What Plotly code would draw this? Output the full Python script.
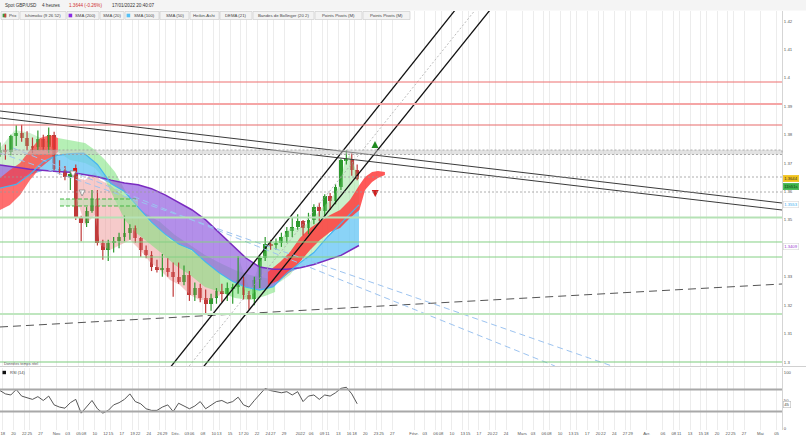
import plotly.graph_objects as go
import numpy as np

# ---------------- geometry of the page ----------------
W, H = 806, 442
ML, MR, MT, MB = 0, 24, 11, 12
PW = W - ML - MR
PH = H - MT - MB


def pxx(x):
    return x / PW


def pyy(y):
    return (H - MB - y) / PH

# ---------------- data ----------------
candle_dates = ["2021-10-15", "2021-10-18", "2021-10-19", "2021-10-20", "2021-10-21", "2021-10-22",
                "2021-10-25", "2021-10-26", "2021-10-27", "2021-10-28", "2021-10-29",
                "2021-11-01", "2021-11-02", "2021-11-03", "2021-11-04", "2021-11-05",
                "2021-11-08", "2021-11-09", "2021-11-10", "2021-11-11", "2021-11-12",
                "2021-11-15", "2021-11-16", "2021-11-17", "2021-11-18", "2021-11-19",
                "2021-11-22", "2021-11-23", "2021-11-24", "2021-11-25", "2021-11-26",
                "2021-11-29", "2021-11-30", "2021-12-01", "2021-12-02", "2021-12-03",
                "2021-12-06", "2021-12-07", "2021-12-08", "2021-12-09", "2021-12-10",
                "2021-12-13", "2021-12-14", "2021-12-15", "2021-12-16", "2021-12-17",
                "2021-12-20", "2021-12-21", "2021-12-22", "2021-12-23", "2021-12-24",
                "2021-12-27", "2021-12-28", "2021-12-29", "2021-12-30", "2021-12-31",
                "2022-01-03", "2022-01-04", "2022-01-05", "2022-01-06", "2022-01-07",
                "2022-01-10", "2022-01-11", "2022-01-12", "2022-01-13", "2022-01-14",
                "2022-01-17"]
price_open = [1.3735, 1.3745, 1.3740, 1.3795, 1.3805, 1.3790,
              1.3760, 1.3755, 1.3785, 1.3755, 1.3800,
              1.3680, 1.3675, 1.3650, 1.3660, 1.3505,
              1.3490, 1.3530, 1.3575, 1.3420, 1.3395,
              1.3420, 1.3425, 1.3440, 1.3455, 1.3470,
              1.3435, 1.3395, 1.3375, 1.3335, 1.3325,
              1.3330, 1.3315, 1.3300, 1.3280, 1.3305,
              1.3235, 1.3260, 1.3225, 1.3205, 1.3225,
              1.3250, 1.3240, 1.3260, 1.3265, 1.3290,
              1.3235, 1.3220, 1.3290, 1.3365, 1.3415,
              1.3410, 1.3420, 1.3440, 1.3460, 1.3475,
              1.3495, 1.3470, 1.3500, 1.3545, 1.3530,
              1.3585, 1.3565, 1.3615, 1.3710, 1.3715,
              1.3675]
price_high = [1.3772, 1.3765, 1.3800, 1.3833, 1.3835, 1.3812,
              1.3790, 1.3815, 1.3800, 1.3825, 1.3810,
              1.3710, 1.3690, 1.3670, 1.3695, 1.3515,
              1.3545, 1.3605, 1.3605, 1.3430, 1.3430,
              1.3440, 1.3455, 1.3515, 1.3485, 1.3480,
              1.3440, 1.3410, 1.3390, 1.3360, 1.3380,
              1.3365, 1.3350, 1.3350, 1.3340, 1.3320,
              1.3280, 1.3275, 1.3255, 1.3240, 1.3260,
              1.3275, 1.3280, 1.3275, 1.3372, 1.3300,
              1.3250, 1.3300, 1.3375, 1.3440, 1.3430,
              1.3435, 1.3455, 1.3475, 1.3510, 1.3520,
              1.3500, 1.3525, 1.3555, 1.3560, 1.3590,
              1.3595, 1.3625, 1.3715, 1.3745, 1.3735,
              1.3695]
price_low = [1.3722, 1.3712, 1.3728, 1.3760, 1.3775, 1.3745,
             1.3735, 1.3745, 1.3745, 1.3735, 1.3675,
             1.3660, 1.3640, 1.3605, 1.3500, 1.3425,
             1.3475, 1.3525, 1.3410, 1.3360, 1.3355,
             1.3385, 1.3400, 1.3425, 1.3430, 1.3420,
             1.3370, 1.3365, 1.3320, 1.3315, 1.3300,
             1.3300, 1.3230, 1.3275, 1.3270, 1.3215,
             1.3215, 1.3210, 1.3165, 1.3180, 1.3205,
             1.3210, 1.3215, 1.3205, 1.3240, 1.3220,
             1.3185, 1.3200, 1.3260, 1.3355, 1.3395,
             1.3395, 1.3405, 1.3420, 1.3440, 1.3465,
             1.3445, 1.3450, 1.3485, 1.3495, 1.3515,
             1.3535, 1.3555, 1.3605, 1.3695, 1.3655,
             1.3640]
price_close = [1.3745, 1.3740, 1.3795, 1.3805, 1.3790, 1.3760,
               1.3755, 1.3785, 1.3755, 1.3800, 1.3680,
               1.3675, 1.3650, 1.3660, 1.3505, 1.3490,
               1.3530, 1.3575, 1.3420, 1.3395, 1.3420,
               1.3425, 1.3440, 1.3455, 1.3470, 1.3435,
               1.3395, 1.3375, 1.3335, 1.3325, 1.3330,
               1.3315, 1.3300, 1.3280, 1.3305, 1.3235,
               1.3260, 1.3225, 1.3205, 1.3225, 1.3250,
               1.3240, 1.3260, 1.3265, 1.3290, 1.3235,
               1.3220, 1.3290, 1.3365, 1.3415, 1.3410,
               1.3420, 1.3440, 1.3460, 1.3475, 1.3495,
               1.3470, 1.3500, 1.3545, 1.3530, 1.3585,
               1.3565, 1.3615, 1.3710, 1.3715, 1.3675,
               1.3644]

rsi_values = [68, 62, 60, 70, 58, 55,
              52, 57, 50, 58, 42,
              38, 36, 46, 52, 27,
              38, 50, 35, 27, 32,
              42, 46, 52, 62, 48,
              44, 35, 32, 32, 38,
              42, 30, 45, 40, 35,
              40, 48, 35, 42, 48,
              50, 45, 48, 56, 42,
              38, 50, 62, 72, 68,
              66, 64, 66, 60, 66,
              48, 58, 60, 52, 60,
              58, 64, 72, 74, 62,
              44]

sma_dates = ["2021-10-15 12:00", "2021-10-18", "2021-10-20 12:00", "2021-10-25", "2021-10-27 12:00",
             "2021-11-01", "2021-11-03 12:00", "2021-11-08", "2021-11-10 12:00", "2021-11-15",
             "2021-11-17 12:00", "2021-11-22", "2021-11-24 12:00", "2021-11-29", "2021-12-01 12:00",
             "2021-12-06", "2021-12-08 12:00", "2021-12-13", "2021-12-15 12:00", "2021-12-20",
             "2021-12-22 12:00", "2021-12-27", "2021-12-29 12:00", "2022-01-03", "2022-01-05 12:00",
             "2022-01-10", "2022-01-12 12:00", "2022-01-17 20:00"]
sma200 = [1.3693, 1.3692, 1.3685, 1.3678, 1.3673,
          1.3670, 1.3668, 1.3660, 1.3652, 1.3640,
          1.3630, 1.3624, 1.3610, 1.3588, 1.3562,
          1.3535, 1.3500, 1.3455, 1.3408, 1.3365,
          1.3334, 1.3326, 1.3326, 1.3332, 1.3343,
          1.3360, 1.3375, 1.3410]
sma100 = [1.3612, 1.3614, 1.3625, 1.3660, 1.3705,
          1.3727, 1.3733, 1.3735, 1.3695, 1.3628,
          1.3600, 1.3545, 1.3492, 1.3450, 1.3415,
          1.3395, 1.3352, 1.3314, 1.3283, 1.3263,
          1.3253, 1.3265, 1.3312, 1.3350, 1.3385,
          1.3440, 1.3490, 1.3553]

# Ichimoku cloud pieces (upper / lower edge)
cloud_red1_dates = ["2021-10-15 12:00", "2021-10-19 08:00", "2021-10-21 05:00", "2021-10-25 01:00",
                    "2021-10-26 22:00", "2021-10-28 18:00", "2021-11-01 05:00"]
cloud_red1_top = [1.36475, 1.36757, 1.37003, 1.37460, 1.37883, 1.37988, 1.37883]
cloud_red1_bot = [1.35349, 1.35525, 1.35877, 1.36405, 1.36827, 1.37109, 1.37390]

cloud_green1_dates = ["2021-11-01 05:00", "2021-11-03 11:00", "2021-11-08 05:00", "2021-11-10 01:00",
                      "2021-11-11 22:00", "2021-11-15 18:00", "2021-11-17 14:00", "2021-11-19 11:00",
                      "2021-11-23 07:00", "2021-11-26 02:00", "2021-11-30 20:00", "2021-12-03 15:00",
                      "2021-12-08 09:00", "2021-12-13 04:00", "2021-12-15 22:00", "2021-12-20 17:00",
                      "2021-12-23 11:00", "2021-12-27 08:00"]
cloud_green1_top = [1.37883, 1.37812, 1.37707, 1.37460, 1.37109, 1.36686, 1.36053, 1.35525,
                    1.35244, 1.34927, 1.34469, 1.34117, 1.33765, 1.33484, 1.33238, 1.33062,
                    1.32956, 1.32886]
cloud_green1_bot = [1.37390, 1.37109, 1.37003, 1.36827, 1.36405, 1.35701, 1.34997, 1.34575,
                    1.34293, 1.33871, 1.33414, 1.33062, 1.32639, 1.32464, 1.32253, 1.32182,
                    1.32323, 1.32464]

cloud_red2_dates = ["2021-12-24 00:00", "2021-12-28 06:00", "2021-12-30 02:00", "2021-12-31 22:00",
                    "2022-01-04 19:00", "2022-01-06 15:00", "2022-01-10 12:00", "2022-01-12 08:00",
                    "2022-01-14 04:00", "2022-01-17 22:00", "2022-01-18 23:00", "2022-01-20 06:00",
                    "2022-01-21 08:00", "2022-01-24 15:00"]
cloud_red2_top = [1.33167, 1.33519, 1.33871, 1.34364, 1.34716, 1.34927, 1.35173, 1.35349,
                  1.35701, 1.36229, 1.36510, 1.36686, 1.36721, 1.36686]
cloud_red2_bot = [1.32710, 1.32886, 1.33167, 1.33519, 1.33941, 1.34293, 1.34575, 1.34716,
                  1.35068, 1.35349, 1.36053, 1.36334, 1.36475, 1.36581]

# light trend fills around price
pink_dates = ["2021-11-04 18:00", "2021-11-08 05:00", "2021-11-10 01:00", "2021-11-10 23:00",
              "2021-11-12 20:00", "2021-11-16 16:00", "2021-11-18 13:00", "2021-11-22 09:00",
              "2021-11-24 05:00", "2021-11-26 02:00", "2021-11-29 22:00", "2021-12-01 18:00",
              "2021-12-03 15:00", "2021-12-07 11:00", "2021-12-09 07:00", "2021-12-13 04:00"]
pink_top = [1.36475, 1.36405, 1.36686, 1.36405, 1.36229, 1.35947, 1.35701, 1.35349,
            1.34927, 1.34645, 1.34293, 1.34117, 1.33941, 1.33695, 1.33414, 1.33132]
pink_bot = [1.35701, 1.34821, 1.35173, 1.34117, 1.33941, 1.34117, 1.34293, 1.33941,
            1.33519, 1.33238, 1.32886, 1.32710, 1.32358, 1.32182, 1.32182, 1.32358]

lgreen_l_dates = ["2021-10-15 12:00", "2021-10-20 07:00", "2021-10-25 01:00", "2021-10-27 20:00",
                  "2021-10-29 16:00", "2021-11-01 14:00"]
lgreen_l_top = [1.37531, 1.38164, 1.38058, 1.37812, 1.37460, 1.36933]
lgreen_l_bot = [1.36123, 1.36299, 1.36686, 1.37144, 1.37214, 1.36897]

lgreen_r_dates = ["2021-12-15 22:00", "2021-12-16 20:00", "2021-12-20 17:00", "2021-12-22 13:00",
                  "2021-12-24 09:00", "2021-12-28 06:00", "2021-12-30 02:00", "2021-12-31 22:00",
                  "2022-01-04 19:00", "2022-01-06 15:00", "2022-01-10 12:00", "2022-01-12 08:00",
                  "2022-01-13 06:00", "2022-01-14 04:00", "2022-01-17 20:00"]
lgreen_r_top = [1.32710, 1.33519, 1.32534, 1.33519, 1.34188, 1.34293, 1.34716, 1.34716,
                1.34927, 1.35349, 1.35701, 1.36229, 1.37109, 1.37285, 1.36475]
lgreen_r_bot = [1.32534, 1.32710, 1.32358, 1.32534, 1.32710, 1.32815, 1.33062, 1.33519,
                1.33695, 1.34117, 1.34575, 1.34821, 1.35033, 1.35173, 1.35525]

# horizontal support / resistance levels
res_levels = [1.39853, 1.39079, 1.38340]
res_widths = [1.2, 2.0, 1.2]
res_colors = ["#ee7070", "#f5a5a5", "#e86a6a"]
sup_levels = [1.35085, 1.34223, 1.33695, 1.31689, 1.30000]
sup_widths = [2.0, 1.0, 1.0, 2.0, 1.2]
sup_colors = ["#b5e2b5", "#84d084", "#84d084", "#bfe6bf", "#7ccc7c"]
dotted_levels = [1.36510, 1.35982]
grey_band = [1.37302, 1.37460]
green_band = [1.35490, 1.35736]
green_band_dates = ["2021-11-01 14:00", "2021-11-22 00:00"]

# drawn trend lines (two anchor points each)
desc_line1 = (["2021-10-15 12:00", "2022-05-06 00:00"], [1.38833, 1.35595])
desc_line2 = (["2021-10-15 12:00", "2022-05-06 00:00"], [1.38587, 1.35349])
rise_dashed = (["2021-10-15 12:00", "2022-05-06 00:00"], [1.31232, 1.32745])
chan_upper = (["2021-11-29", "2022-02-14"], [1.2958, 1.4272])
chan_lower = (["2021-12-07", "2022-02-23"], [1.2957, 1.4285])
chan_mid = (["2021-12-03", "2022-02-17"], [1.2975, 1.4255])
blue_dash1 = (["2021-10-19 22:00", "2022-03-09 01:00"], [1.37531, 1.29859])
blue_dash2 = (["2021-10-15 12:00", "2022-03-23 14:00"], [1.37355, 1.29859])

# signal markers
buy_sig = ("2022-01-20 19:00", 1.37778)
sell_sig = ("2022-01-20 20:00", 1.35807)
red_mark = ("2021-11-04 09:00", 1.36757)
white_marks = (["2021-11-04 00:00", "2021-11-05 16:00"], [1.36510, 1.35842])

# axis ticks (date, label)
tick_dates = ["2021-10-15", "2021-10-18", "2021-10-20", "2021-10-22", "2021-10-25", "2021-10-27",
              "2021-11-01", "2021-11-03", "2021-11-05", "2021-11-08", "2021-11-10", "2021-11-12",
              "2021-11-15", "2021-11-17", "2021-11-19", "2021-11-22", "2021-11-24", "2021-11-26",
              "2021-11-29", "2021-12-01", "2021-12-03", "2021-12-06", "2021-12-08", "2021-12-10",
              "2021-12-13", "2021-12-15", "2021-12-17", "2021-12-20", "2021-12-22", "2021-12-24",
              "2021-12-27", "2021-12-29", "2022-01-03", "2022-01-05", "2022-01-07", "2022-01-10",
              "2022-01-12", "2022-01-14", "2022-01-17", "2022-01-19", "2022-01-21", "2022-01-24",
              "2022-01-26", "2022-02-01", "2022-02-03", "2022-02-07", "2022-02-08", "2022-02-10",
              "2022-02-14", "2022-02-15", "2022-02-17", "2022-02-21", "2022-02-22", "2022-02-24",
              "2022-03-01", "2022-03-03", "2022-03-07", "2022-03-08", "2022-03-10", "2022-03-14",
              "2022-03-15", "2022-03-17", "2022-03-21", "2022-03-22", "2022-03-24", "2022-03-28",
              "2022-03-29", "2022-04-01", "2022-04-06", "2022-04-08", "2022-04-11", "2022-04-13",
              "2022-04-15", "2022-04-18", "2022-04-20", "2022-04-22", "2022-04-25", "2022-04-27",
              "2022-05-02", "2022-05-05"]
tick_labels = ["15", "18", "20", "22", "25", "27",
               "Nov.", "03", "05", "08", "10", "12",
               "15", "17", "19", "22", "24", "26",
               "29", "Déc.", "03", "06", "08", "10",
               "13", "15", "17", "20", "22", "24",
               "27", "29", "2022", "06", "09", "11",
               "13", "16", "18", "20", "23", "25",
               "27", "Févr.", "03", "06", "08", "10",
               "13", "15", "17", "20", "22", "24",
               "Mars", "03", "06", "08", "10", "13",
               "15", "17", "20", "22", "24", "27",
               "29", "Avr.", "06", "08", "11", "13",
               "15", "18", "20", "22", "25", "27",
               "Mai", "05"]

price_ticks = [1.30, 1.31, 1.32, 1.33, 1.34, 1.35, 1.36, 1.37, 1.38, 1.39, 1.40, 1.41, 1.42]
price_tick_text = ["1.3", "1.31", "1.32", "1.33", "", "1.35", "1.36", "1.37", "1.38", "1.39", "1.4", "1.41", "1.42"]

X_RANGE = ["2021-10-15 12:00", "2022-05-06 00:00"]
Y_RANGE = [1.29859, 1.42352]
RSI_RANGE = [-3.6, 109]

FONT = "Liberation Sans"
GREEN = "#2e9a2e"
RED = "#c03a3a"

fig = go.Figure()


def band(dates, top, bot, color, yaxis="y"):
    fig.add_trace(go.Scatter(x=dates, y=top, mode="lines", line=dict(width=0), hoverinfo="skip",
                             showlegend=False, yaxis=yaxis))
    fig.add_trace(go.Scatter(x=dates, y=bot, mode="lines", line=dict(width=0), fill="tonexty",
                             fillcolor=color, hoverinfo="skip", showlegend=False, yaxis=yaxis))


# light trend fills
band(lgreen_l_dates, lgreen_l_top, lgreen_l_bot, "rgba(150,225,150,0.45)")
band(lgreen_r_dates, lgreen_r_top, lgreen_r_bot, "rgba(150,225,150,0.5)")
band(pink_dates, pink_top, pink_bot, "rgba(238,150,150,0.5)")

# green ichimoku cloud
band(cloud_green1_dates, cloud_green1_top, cloud_green1_bot, "rgba(120,225,120,0.55)")

# SMA 100 / 200 fills
s100 = np.array(sma100)
s200 = np.array(sma200)
lower = np.minimum(s100, s200)
band(sma_dates, s200, lower, "rgba(150,100,225,0.72)")
band(sma_dates, s100, lower, "rgba(105,198,245,0.78)")

# red ichimoku clouds
band(cloud_red1_dates, cloud_red1_top, cloud_red1_bot, "rgba(255,55,55,0.72)")
band(cloud_red2_dates, cloud_red2_top, cloud_red2_bot, "rgba(255,60,60,0.85)")

# SMA lines
fig.add_trace(go.Scatter(x=sma_dates, y=sma200, mode="lines", line=dict(color="#7a2cc0", width=1.5),
                         showlegend=False, hoverinfo="skip"))
fig.add_trace(go.Scatter(x=sma_dates, y=sma100, mode="lines", line=dict(color="#45b5f0", width=1.2),
                         showlegend=False, hoverinfo="skip"))

# green dashed pivot band
fig.add_trace(go.Scatter(x=green_band_dates, y=[green_band[1]] * 2, mode="lines",
                         line=dict(color="#46b846", width=1, dash="4px,2px"), showlegend=False, hoverinfo="skip"))
fig.add_trace(go.Scatter(x=green_band_dates, y=[green_band[0]] * 2, mode="lines", fill="tonexty",
                         fillcolor="rgba(170,230,170,0.45)",
                         line=dict(color="#46b846", width=1, dash="4px,2px"), showlegend=False, hoverinfo="skip"))

# candles: wicks then bodies
for up in (True, False):
    wx, wy, bx, bb, bh = [], [], [], [], []
    for d, o, h, l, c in zip(candle_dates, price_open, price_high, price_low, price_close):
        if (c >= o) != up:
            continue
        dn = d + " 12:00"
        wx += [dn, dn, None]
        wy += [l, h, None]
        bx.append(dn)
        bb.append(min(o, c))
        bh.append(max(abs(c - o), 0.00015))
    col = GREEN if up else RED
    fig.add_trace(go.Scatter(x=wx, y=wy, mode="lines", line=dict(color=col, width=1.2),
                             showlegend=False, hoverinfo="skip"))
    fig.add_trace(go.Bar(x=bx, y=bh, base=bb, width=0.72 * 86400000, marker=dict(color=col, line=dict(width=0)),
                         showlegend=False, hoverinfo="skip"))

# trend lines
for (xs, ys), col, wd, dash in [(desc_line1, "#3a3a3a", 1, "solid"), (desc_line2, "#3a3a3a", 1, "solid"),
                                (rise_dashed, "#555555", 1, "8px,5px"),
                                (chan_upper, "#111111", 1.3, "solid"), (chan_lower, "#111111", 1.3, "solid"),
                                (chan_mid, "#aaaaaa", 0.8, "2px,2px"),
                                (blue_dash1, "#9cc3f0", 1, "6px,4px"), (blue_dash2, "#9cc3f0", 1, "6px,4px")]:
    fig.add_trace(go.Scatter(x=xs, y=ys, mode="lines", line=dict(color=col, width=wd, dash=dash),
                             showlegend=False, hoverinfo="skip"))

# markers
fig.add_trace(go.Scatter(x=[buy_sig[0]], y=[buy_sig[1]], mode="markers",
                         marker=dict(symbol="arrow-up", size=7, color="#1f8a1f"), showlegend=False, hoverinfo="skip"))
fig.add_trace(go.Scatter(x=[sell_sig[0]], y=[sell_sig[1]], mode="markers",
                         marker=dict(symbol="arrow-down", size=7, color="#d02020"), showlegend=False, hoverinfo="skip"))
fig.add_trace(go.Scatter(x=[red_mark[0]], y=[red_mark[1]], mode="markers",
                         marker=dict(symbol="square", size=4, color="#e01010"), showlegend=False, hoverinfo="skip"))
fig.add_trace(go.Scatter(x=white_marks[0], y=white_marks[1], mode="markers",
                         marker=dict(symbol="arrow-down", size=6, color="white", line=dict(color="#888", width=0.8)),
                         showlegend=False, hoverinfo="skip"))

# RSI
rsi_x = [d + " 12:00" for d in candle_dates]
fig.add_trace(go.Scatter(x=rsi_x, y=rsi_values, mode="lines", line=dict(color="#444444", width=0.9),
                         yaxis="y2", showlegend=False, hoverinfo="skip"))

shapes = []
# header background
shapes.append(dict(type="rect", xref="paper", yref="paper", x0=0, x1=W / PW, y0=pyy(10.5), y1=pyy(0),
                   fillcolor="#f4f4f4", line=dict(width=0), layer="below"))
# horizontal levels
for lv, wd, col in zip(res_levels + sup_levels, res_widths + sup_widths, res_colors + sup_colors):
    shapes.append(dict(type="line", xref="paper", yref="y", x0=0, x1=1, y0=lv, y1=lv,
                       line=dict(color=col, width=wd), layer="above"))
for lv in dotted_levels:
    shapes.append(dict(type="line", xref="paper", yref="y", x0=0, x1=1, y0=lv, y1=lv,
                       line=dict(color="#999999", width=0.8, dash="2px,2px"), layer="above"))
shapes.append(dict(type="rect", xref="paper", yref="y", x0=0, x1=1, y0=grey_band[0], y1=grey_band[1],
                   fillcolor="rgba(200,200,200,0.5)", line=dict(color="#999999", width=0.8, dash="2px,2px"),
                   layer="above"))
# RSI levels
for lv in (70, 30):
    shapes.append(dict(type="line", xref="paper", yref="y2", x0=0, x1=1, y0=lv, y1=lv,
                       line=dict(color="#a8a8a8", width=2)))
# panel separator
shapes.append(dict(type="line", xref="paper", yref="paper", x0=0, x1=W / PW, y0=pyy(366.5), y1=pyy(366.5),
                   line=dict(color="#d0d0d0", width=1)))

# legend strip
legend_items = [("Prix", 1, 19), ("Ichimoku (9 26 52)", 20, 66), ("SMA (200)", 67, 99), ("SMA (20)", 100, 124),
                ("SMA (100)", 125, 159), ("SMA (50)", 160, 189), ("Heikin-Ashi", 190, 219), ("DEMA (21)", 220, 252),
                ("Bandes de Bollinger (20 2)", 253, 314), ("Points Pivots (M)", 315, 362),
                ("Points Pivots (M)", 363, 410)]
legend_swatch = {"Prix": "#3a9a3a", "SMA (200)": "#8a2be2", "SMA (100)": "#55c0f5"}
annotations = []
for name, x0, x1 in legend_items:
    shapes.append(dict(type="rect", xref="paper", yref="paper", x0=pxx(x0), x1=pxx(x1), y0=pyy(19.5), y1=pyy(11.5),
                       fillcolor="#f3f3f3", line=dict(color="#cfcfcf", width=0.7)))
    tx = (x0 + x1) / 2
    if name in legend_swatch:
        shapes.append(dict(type="rect", xref="paper", yref="paper", x0=pxx(x0 + 1.6), x1=pxx(x0 + 5.2),
                           y0=pyy(17.3), y1=pyy(13.7), fillcolor=legend_swatch[name], line=dict(width=0)))
        if name == "Prix":
            shapes.append(dict(type="rect", xref="paper", yref="paper", x0=pxx(x0 + 3.4), x1=pxx(x0 + 5.2),
                               y0=pyy(17.3), y1=pyy(13.7), fillcolor="#d04040", line=dict(width=0)))
        tx += 2.5
    annotations.append(dict(text=name, xref="paper", yref="paper", x=pxx(tx), y=pyy(15.5), showarrow=False,
                            xanchor="center", yanchor="middle", font=dict(family=FONT, size=4.3, color="#444")))

# header texts
for txt, x, col in [("Spot GBP/USD", 2.5, "#333"), ("4 heures", 40, "#333"), ("1.3644 (-0.26%)", 67, "#d03030"),
                    ("17/01/2022 20:40:07", 110, "#333")]:
    annotations.append(dict(text=txt, xref="paper", yref="paper", x=pxx(x), y=pyy(5.8), showarrow=False,
                            xanchor="left", yanchor="middle", font=dict(family=FONT, size=4.6, color=col)))

annotations.append(dict(text="Données temps réel", xref="paper", yref="paper", x=pxx(2), y=pyy(364), showarrow=False,
                        xanchor="left", yanchor="middle", font=dict(family=FONT, size=3.8, color="#555")))
annotations.append(dict(text="RSI (14)", xref="paper", yref="paper", x=pxx(7.5), y=pyy(372.5), showarrow=False,
                        xanchor="left", yanchor="middle", font=dict(family=FONT, size=4, color="#444")))
shapes.append(dict(type="rect", xref="paper", yref="paper", x0=pxx(2.5), x1=pxx(6), y0=pyy(374.2), y1=pyy(370.8),
                   fillcolor="#111", line=dict(width=0)))

# right side value boxes
for txt, y, bg, fg, bc in [("1.3644", 178.9, "#f2c21b", "#333", "#f2c21b"), ("11h51s", 186.5, "#3cb34a", "#1a3a1a", "#3cb34a"),
                           ("1.3553", 205, "white", "#35aef0", "#d8d8d8"), ("1.3409", 246, "white", "#9a40d0", "#d8d8d8"),
                           ("45", 404.5, "white", "#444", "#bbbbbb")]:
    annotations.append(dict(text=txt, xref="paper", yref="paper", x=pxx(783), y=pyy(y), showarrow=False,
                            xanchor="left", yanchor="middle", bgcolor=bg, bordercolor=bc, borderwidth=0.6, borderpad=0.6,
                            font=dict(family=FONT, size=4.2, color=fg)))

fig.update_layout(
    width=W, height=H, margin=dict(l=ML, r=MR, t=MT, b=MB, autoexpand=False),
    paper_bgcolor="white", plot_bgcolor="white", showlegend=False, barmode="overlay", bargap=0,
    shapes=shapes, annotations=annotations,
    xaxis=dict(type="date", range=X_RANGE, rangebreaks=[dict(bounds=["sat", "mon"])],
               tickmode="array", tickvals=tick_dates, ticktext=tick_labels, showgrid=True,
               gridcolor="#ececec", gridwidth=0.8, ticks="", showline=False, zeroline=False,
               tickfont=dict(family=FONT, size=4.2, color="#555"), anchor="y2", tickangle=0),
    yaxis=dict(domain=[pyy(366), 1], range=Y_RANGE, side="right", tickmode="array", tickvals=price_ticks,
               ticktext=price_tick_text, showgrid=False, zeroline=False, ticks="", showline=True,
               linecolor="#d5d5d5", linewidth=1, tickfont=dict(family=FONT, size=4.3, color="#555"),
               anchor="x"),
    yaxis2=dict(domain=[0, pyy(368)], range=RSI_RANGE, side="right", tickmode="array", tickvals=[0, 50, 100],
                ticktext=["0", "50", "100"], showgrid=False, zeroline=False, ticks="", showline=True,
                linecolor="#d5d5d5", linewidth=1, tickfont=dict(family=FONT, size=4.2, color="#555"),
                anchor="x"),
)

fig.write_html("out.html", config={"displayModeBar": False},
               post_script="document.body.style.margin='0';document.body.style.padding='0';")
